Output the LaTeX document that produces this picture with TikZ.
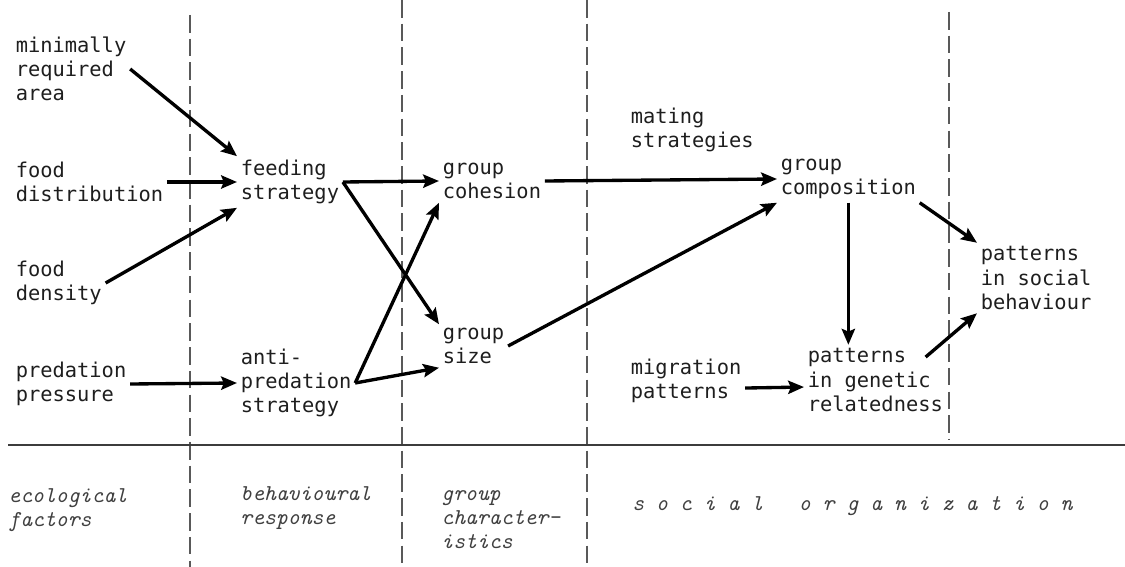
\documentclass[tikz,border=0pt]{standalone}
\usepackage{fontspec}
\newfontfamily\typer{DejaVu Sans Mono}
\usepackage{tikz}
\usetikzlibrary{arrows.meta,calc}
\definecolor{ink}{HTML}{1E1E1E}
\definecolor{pencil}{HTML}{404040}
\definecolor{rulegrey}{HTML}{3C3C3C}
\tikzset{
  >={Stealth[length=9pt,width=7.5pt,inset=1.5pt]},
  % rutor
  fac/.style={anchor=west,align=left,inner sep=2pt,text=ink,
              font=\typer\fontsize{11.6pt}{13.7pt}\selectfont},
  lbl/.style={anchor=west,align=left,inner sep=0pt,text=pencil,
              font=\ttfamily\itshape\fontsize{12.9pt}{13.7pt}\selectfont},
  % linjer
  fx/.style={->,draw=black,line width=1.9pt},
  vsep/.style={draw=black!65,line width=0.8pt,dash pattern=on 10pt off 3.5pt},
  hrule/.style={draw=rulegrey,line width=1.1pt},
}

\begin{document}
\begin{tikzpicture}[x=0.02cm,y=-0.02cm]
\useasboundingbox (0,0) rectangle (1125,567);
  \foreach \x/\t in {190/15,402/0,587/0}
    \draw[vsep] (\x,\t) -- (\x,567);
  \draw[vsep] (949,12) -- (949,440);
  \draw[hrule] (8,445) -- (1125,445);

  \node[fac] (area) at (12,69) {minimally\\required\\area};
  \node[fac] (dist) at (12,182) {food\\distribution};
  \node[fac] (dens) at (12,283) {food\\density};
  \node[fac] (pred) at (12,384) {predation\\pressure};
  \node[fac] (feed) at (237,182) {feeding\\strategy};
  \node[fac] (anti) at (237,383) {anti-\\predation\\strategy};
  \node[fac] (coh) at (439,181) {group\\cohesion};
  \node[fac] (size) at (439,346) {group\\size};
  \node[fac] (mate) at (627,130) {mating\\strategies};
  \node[fac] (comp) at (777,179) {group\\composition};
  \node[fac] (mig) at (627,381) {migration\\patterns};
  \node[fac] (gen) at (804,380) {patterns\\in genetic\\relatedness};
  \node[fac] (soc) at (977,278) {patterns\\in social\\behaviour};

  \draw[fx] (area.east) -- (feed.north west);
  \draw[fx] (dist.east) -- (feed.west);
  \draw[fx] (dens.east) -- (feed.south west);
  \draw[fx] (pred.east) -- (anti.west);
  \draw[fx] (feed.east) -- (coh.west);
  \draw[fx] (feed.east) -- (size.north west);
  \draw[fx] (anti.east) -- (coh.south west);
  \draw[fx] (anti.east) -- (size.south west);
  \draw[fx] (coh.east) -- (comp.west);
  \draw[fx] (size.east) -- (comp.south west);
  \draw[fx] (comp.south) -- (comp.south |- gen.north);
  \draw[fx] ([yshift=-4pt]mig.east) -- ([yshift=-4pt]gen.west);
  \draw[fx] (comp.south east) -- (soc.north west);
  \draw[fx] ([xshift=-12pt,yshift=-7pt]gen.north east) -- (soc.south west);

  \node[lbl] (eco) at (8,510) {ecological\\factors};
  \node[lbl] (beh) at (240,508) {behavioural\\response};
  \node[lbl] (grp) at (441,520) {group\\character-\\istics};
  \node[lbl] (org) at (632,506) {s~o~c~i~a~l~~~o~r~g~a~n~i~z~a~t~i~o~n};
\end{tikzpicture}
\end{document}
